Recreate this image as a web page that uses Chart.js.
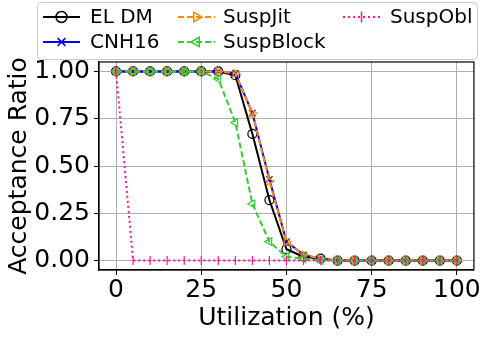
<!DOCTYPE html>
<html>
<head>
<meta charset="utf-8">
<script src="https://cdn.jsdelivr.net/npm/chart.js@4.4.1/dist/chart.umd.min.js"></script>
<style>
  html, body { margin: 0; padding: 0; background: #fff; }
  #wrap { width: 481px; height: 337px; }
</style>
</head>
<body>
<div id="wrap"><canvas id="myChart" width="481" height="337"></canvas></div>
<script>
  "use strict";

  // utilization (%)
  const utilization = [0, 5, 10, 15, 20, 25, 30, 35, 40, 45, 50, 55, 60, 65, 70, 75, 80, 85, 90, 95, 100];

  const elDm      = [1, 1, 1, 1, 1, 1, 1, 0.98, 0.67, 0.32, 0.06, 0.02, 0.01, 0, 0, 0, 0, 0, 0, 0, 0];
  const cnh16     = [1, 1, 1, 1, 1, 1, 1, 0.99, 0.78, 0.43, 0.10, 0.03, 0.01, 0, 0, 0, 0, 0, 0, 0, 0];
  const suspJit   = [1, 1, 1, 1, 1, 1, 1, 0.99, 0.78, 0.42, 0.10, 0.03, 0.01, 0, 0, 0, 0, 0, 0, 0, 0];
  const suspBlock = [1, 1, 1, 1, 1, 1, 0.96, 0.73, 0.30, 0.10, 0.02, 0.01, 0, 0, 0, 0, 0, 0, 0, 0, 0];
  const suspObl   = [1, 0, 0, 0, 0, 0, 0, 0, 0, 0, 0, 0, 0, 0, 0, 0, 0, 0, 0, 0, 0];

  const xTicks = [0, 25, 50, 75, 100];
  const yTicks = [0, 0.25, 0.5, 0.75, 1];

  const FONT = "'DejaVu Sans', sans-serif";
  const FSIZE = 25;   // axis labels + ticks
  const LSIZE = 20;   // legend text

  const toPoints = (vals) => vals.map((v, i) => ({ x: utilization[i], y: v }));

  const series = [
    { label: "EL DM", data: elDm, color: "#000000", style: "circle", rot: 0, dash: [], order: 4 },
    { label: "CNH16", data: cnh16, color: "#0000ff", style: "crossRot", rot: 0, dash: [], order: 3 },
    { label: "SuspJit", data: suspJit, color: "#ff8c00", style: "triangle", rot: 90, dash: [6, 3], order: 2 },
    { label: "SuspBlock", data: suspBlock, color: "#32cd32", style: "triangle", rot: -90, dash: [6, 3], order: 1 },
    { label: "SuspObl", data: suspObl, color: "#ff1493", style: "line", rot: 90, dash: [2, 3], order: 0 },
  ];

  // legend drawn by hand, matplotlib style (3 columns, 2 rows)
  const legendPlugin = {
    id: "mplLegend",
    afterDraw(chart) {
      const c = chart.ctx;
      c.save();
      c.fillStyle = "rgba(255,255,255,0.85)";
      c.strokeStyle = "#cccccc";
      c.lineWidth = 1;
      c.beginPath();
      c.roundRect(37.5, 2.5, 440, 57, 4);
      c.fill();
      c.stroke();
      const cols = [[43, 90], [178, 223], [343, 390]];
      const rows = [17, 42];
      const slots = [[0, 0], [0, 1], [1, 0], [1, 1], [2, 0]];
      series.forEach((s, i) => {
        const [ci, ri] = slots[i];
        const x0 = cols[ci][0], tx = cols[ci][1], y = rows[ri];
        c.strokeStyle = s.color;
        c.lineWidth = 2;
        c.setLineDash(s.dash);
        c.beginPath();
        c.moveTo(x0, y);
        c.lineTo(x0 + 37, y);
        c.stroke();
        c.setLineDash([]);
        c.fillStyle = "rgba(255,255,255,0)";
        c.strokeStyle = s.color;
        c.lineWidth = 1.5;
        Chart.helpers.drawPoint(c, {
          pointStyle: s.style, radius: 5.5, rotation: s.rot,
          borderWidth: 1.5
        }, x0 + 18.5, y);
        c.fillStyle = "#000";
        c.font = LSIZE + "px " + FONT;
        c.textBaseline = "middle";
        c.textAlign = "left";
        c.fillText(s.label, tx, y + 1);
      });
      c.restore();
    },
  };

  const framePlugin = {
    id: "frame",
    afterDatasetsDraw(chart) {
      const a = chart.chartArea, c = chart.ctx;
      c.save();
      c.strokeStyle = "#000";
      c.lineWidth = 1.2;
      c.strokeRect(a.left, a.top, a.right - a.left, a.bottom - a.top);
      c.restore();
    },
  };

  const ctx = document.getElementById("myChart").getContext("2d");
  const chart = new Chart(ctx, {
    type: "line",
    data: {
      datasets: series.map((s) => ({
        label: s.label,
        data: toPoints(s.data),
        borderColor: s.color,
        backgroundColor: "transparent",
        borderWidth: 2,
        borderDash: s.dash,
        pointStyle: s.style,
        pointRotation: s.rot,
        pointRadius: 4.5,
        pointBorderWidth: 1.2,
        pointBorderColor: s.color,
        pointBackgroundColor: "rgba(255,255,255,0)",
        tension: 0,
        fill: false,
        order: s.order,
      })),
    },
    options: {
      responsive: false,
      animation: false,
      layout: { padding: { left: 0, right: 3, top: 62, bottom: 0 } },
      plugins: {
        legend: { display: false },
        tooltip: { enabled: false },
      },
      scales: {
        x: {
          type: "linear",
          min: -5,
          max: 105,
          afterFit: (scale) => { scale.height = 67; },
          afterBuildTicks: (scale) => { scale.ticks = xTicks.map((v) => ({ value: v })); },
          grid: { color: "#b0b0b0", lineWidth: 1, tickColor: "#000", tickLength: 5 },
          border: { color: "#000", width: 1.2 },
          ticks: { color: "#000", font: { family: FONT, size: FSIZE }, padding: 0, maxRotation: 0 },
          title: { display: true, text: "Utilization (%)", color: "#000", font: { family: FONT, size: FSIZE }, padding: { top: 0, bottom: 4 } },
        },
        y: {
          type: "linear",
          min: -0.05,
          max: 1.05,
          afterFit: (scale) => { scale.width = 99; },
          afterBuildTicks: (scale) => { scale.ticks = yTicks.map((v) => ({ value: v })); },
          grid: { color: "#b0b0b0", lineWidth: 1, tickColor: "#000", tickLength: 5 },
          border: { color: "#000", width: 1.2 },
          ticks: { color: "#000", font: { family: FONT, size: FSIZE }, padding: 4, callback: (v) => Number(v).toFixed(2) },
          title: { display: true, text: "Acceptance Ratio", color: "#000", font: { family: FONT, size: FSIZE }, padding: { top: 4, bottom: 0 } },
        },
      },
    },
    plugins: [framePlugin, legendPlugin],
  });
</script>
</body>
</html>
